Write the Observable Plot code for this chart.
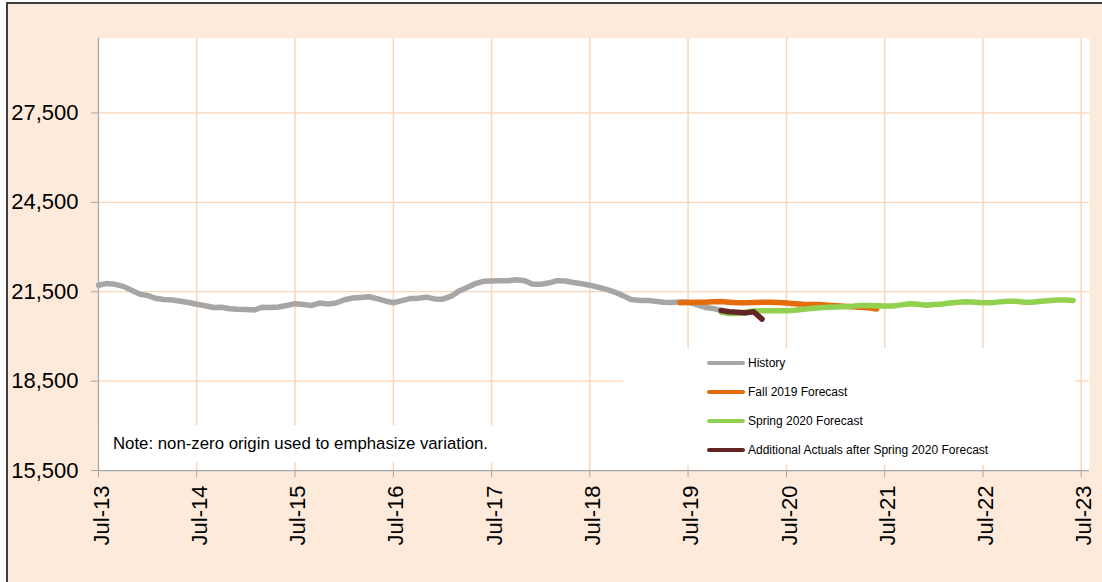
<!DOCTYPE html>
<html>
<head>
<meta charset="utf-8">
<script src="https://cdn.jsdelivr.net/npm/d3@7"></script>
<script src="https://cdn.jsdelivr.net/npm/@observablehq/plot@0.6"></script>
<style>
  html, body { margin: 0; padding: 0; background: #ffffff; width: 1102px; height: 582px; overflow: hidden;
    font-family: "Liberation Sans", Arial, sans-serif; }
  #frame { position: absolute; left: 6px; top: 2px; width: 1200px; height: 700px;
    border-left: 2px solid #404040; border-top: 2px solid #404040; background: #FDEADA; }
  #chart { position: absolute; left: 0; top: 0; }
  #note { position: absolute; left: 99px; top: 425px; width: 430px; height: 37px; background: #ffffff; }
  #note span { position: absolute; left: 14px; top: 50%; transform: translateY(-50%); font-size: 16.8px; color: #000; white-space: nowrap; }
  #legend { position: absolute; left: 623px; top: 348px; width: 452px; height: 117px; background: #ffffff; }
  .item { position: absolute; left: 84px; height: 20px; display: flex; align-items: center; white-space: nowrap; }
  .sw { width: 38px; height: 4px; border-radius: 2px; margin-right: 3px; }
  .lab { font-size: 12px; color: #000; }
</style>
</head>
<body>
<div id="frame"></div>
<div id="chart"></div>
<div id="note"><span></span></div>
<div id="legend"></div>
<script>
// ---- Data (monthly values) ----
const seriesNames = ["History", "Fall 2019 Forecast", "Spring 2020 Forecast", "Additional Actuals after Spring 2020 Forecast"];
const seriesColors = ["#A6A6A6", "#E46C0A", "#92D050", "#632523"];

// History: Jul-2013 .. Nov-2019
const historyStart = [2013, 6];
const historyValues = [
  21720, 21780, 21750, 21680, 21550, 21420, 21370, 21270, 21240, 21220, 21180, 21140,
  21080, 21030, 20970, 20980, 20930, 20910, 20900, 20890, 20980, 20970, 20990, 21040,
  21100, 21070, 21040, 21120, 21090, 21120, 21230, 21290, 21310, 21330, 21270, 21190,
  21130, 21200, 21270, 21280, 21320, 21260, 21250, 21350, 21520, 21640, 21770, 21850,
  21860, 21870, 21870, 21900, 21870, 21750, 21750, 21800, 21870, 21860, 21810, 21770,
  21720, 21650, 21580, 21490, 21370, 21240, 21210, 21210, 21180, 21150, 21140, 21160,
  21150, 21070, 20980, 20940, 20870
];
// Fall 2019 Forecast: Jun-2019 .. Jun-2021
const fallStart = [2019, 5];
const fallValues = [
  21130, 21140, 21150, 21150, 21160, 21170, 21150, 21130, 21130, 21140, 21150, 21150,
  21140, 21120, 21100, 21080, 21070, 21070, 21050, 21030, 21010, 21000, 20980, 20960, 20920
];
// Spring 2020 Forecast: Nov-2019 .. Jun-2023
const springStart = [2019, 10];
const springValues = [
  20820, 20770, 20770, 20820, 20850, 20860, 20860, 20860, 20860, 20880, 20910, 20940,
  20960, 20980, 20990, 21000, 21010, 21040, 21040, 21030, 21020, 21020, 21060, 21100,
  21080, 21050, 21070, 21090, 21120, 21150, 21160, 21150, 21130, 21130, 21160, 21180,
  21180, 21150, 21150, 21180, 21200, 21220, 21220, 21210
];
// Additional actuals: Nov-2019 .. Apr-2020
const actualStart = [2019, 10];
const actualValues = [20870, 20830, 20810, 20790, 20830, 20580];

const yTicks = [15500, 18500, 21500, 24500, 27500];
const yDomain = [15500, 30000];
const xTickYears = [2013, 2014, 2015, 2016, 2017, 2018, 2019, 2020, 2021, 2022, 2023];
const xTickLabels = ["Jul-13", "Jul-14", "Jul-15", "Jul-16", "Jul-17", "Jul-18", "Jul-19", "Jul-20", "Jul-21", "Jul-22", "Jul-23"];
const noteText = "Note: non-zero origin used to emphasize variation.";

// ---- Build tables ----
function build(start, values) {
  const s = new Date(Date.UTC(start[0], start[1], 1));
  return values.map((v, i) => ({ date: d3.utcMonth.offset(s, i), value: v }));
}
const history = build(historyStart, historyValues);
const fall = build(fallStart, fallValues);
const spring = build(springStart, springValues);
const actual = build(actualStart, actualValues);

const xTicks = xTickYears.map(y => new Date(Date.UTC(y, 6, 1)));
const labelByYear = new Map(xTickYears.map((y, i) => [y, xTickLabels[i]]));
const xDomain = [xTicks[0], d3.utcMonth.offset(xTicks[xTicks.length - 1], 1)];

const gridColor = "#FBD5B5";
const axisColor = "#A6A6A6";
const lineOpts = (c) => ({ x: "date", y: "value", stroke: c, strokeWidth: 5.5, strokeLinecap: "round", strokeLinejoin: "round" });

const chart = Plot.plot({
  width: 1102,
  height: 582,
  marginLeft: 98,
  marginRight: 13,
  marginTop: 38,
  marginBottom: 112,
  style: { background: "transparent", fontFamily: "'Liberation Sans', Arial, sans-serif", color: "#000", overflow: "visible" },
  x: { type: "utc", domain: xDomain },
  y: { domain: yDomain },
  marks: [
    Plot.frame({ fill: "white", stroke: null }),
    Plot.ruleX(xTicks.slice(1), { stroke: gridColor, strokeWidth: 1.5 }),
    Plot.ruleY(yTicks.slice(1), { stroke: gridColor, strokeWidth: 1.25 }),
    Plot.line(history, lineOpts(seriesColors[0])),
    Plot.line(fall, lineOpts(seriesColors[1])),
    Plot.line(spring, lineOpts(seriesColors[2])),
    Plot.line(actual, lineOpts(seriesColors[3])),
    Plot.ruleX([xDomain[0]], { stroke: axisColor, strokeWidth: 1.25 }),
    Plot.ruleY([yDomain[0]], { stroke: axisColor, strokeWidth: 1.25 }),
    Plot.axisY({ ticks: yTicks, tickFormat: d3.format(","), tickSize: 7, tickPadding: 13, fontSize: 22,
      stroke: axisColor, fill: "#000", label: null }),
    Plot.axisX({ ticks: xTicks, tickFormat: () => "", tickSize: 7, stroke: axisColor, label: null }),
    Plot.axisX({ ticks: xTicks, tickFormat: d => labelByYear.get(d.getUTCFullYear()), tickRotate: -90,
      tickSize: 0, tickPadding: 15, fontSize: 22, dx: 3, fill: "#000", label: null })
  ]
});
document.getElementById("chart").appendChild(chart);

document.querySelector("#note span").textContent = noteText;

const legend = document.getElementById("legend");
const rowTops = [4.7, 34, 63, 92.3];
seriesNames.forEach((name, i) => {
  const item = document.createElement("div");
  item.className = "item";
  item.style.top = rowTops[i] + "px";
  const sw = document.createElement("div");
  sw.className = "sw";
  sw.style.background = seriesColors[i];
  const lab = document.createElement("span");
  lab.className = "lab";
  lab.textContent = name;
  item.appendChild(sw);
  item.appendChild(lab);
  legend.appendChild(item);
});
</script>
</body>
</html>
